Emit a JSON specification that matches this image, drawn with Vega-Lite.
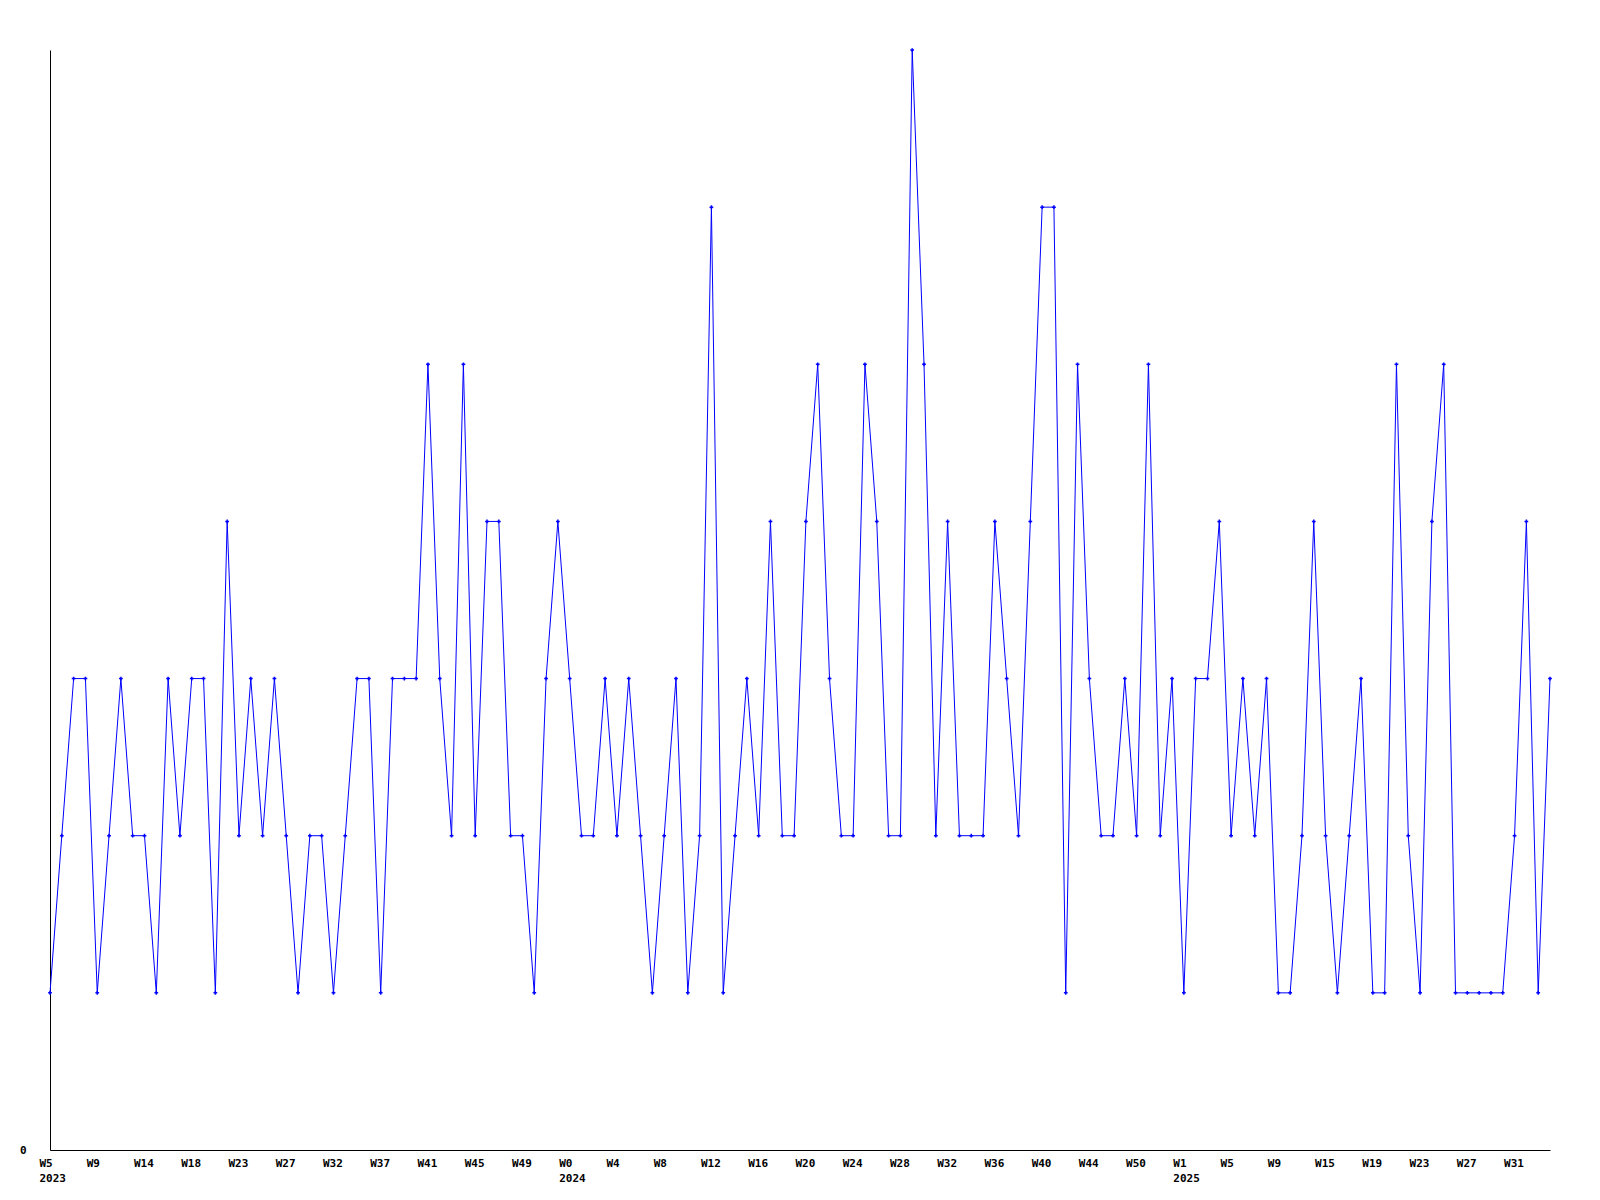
{
  "$schema": "https://vega.github.io/schema/vega-lite/v6.json",
  "width": 1500,
  "height": 1100,
  "autosize": {"type": "none"},
  "padding": {"left": 50, "top": 50, "right": 50, "bottom": 50},
  "background": "white",
  "config": {"view": {"stroke": null}},
  "data": {"values": [
    {"week":"2023-W05","count":1},{"week":"2023-W06","count":2},{"week":"2023-W07","count":3},{"week":"2023-W08","count":3},
    {"week":"2023-W09","count":1},{"week":"2023-W10","count":2},{"week":"2023-W11","count":3},{"week":"2023-W12","count":2},
    {"week":"2023-W14","count":2},{"week":"2023-W15","count":1},{"week":"2023-W16","count":3},{"week":"2023-W17","count":2},
    {"week":"2023-W18","count":3},{"week":"2023-W20","count":3},{"week":"2023-W21","count":1},{"week":"2023-W22","count":4},
    {"week":"2023-W23","count":2},{"week":"2023-W24","count":3},{"week":"2023-W25","count":2},{"week":"2023-W26","count":3},
    {"week":"2023-W27","count":2},{"week":"2023-W28","count":1},{"week":"2023-W29","count":2},{"week":"2023-W31","count":2},
    {"week":"2023-W32","count":1},{"week":"2023-W33","count":2},{"week":"2023-W34","count":3},{"week":"2023-W36","count":3},
    {"week":"2023-W37","count":1},{"week":"2023-W38","count":3},{"week":"2023-W39","count":3},{"week":"2023-W40","count":3},
    {"week":"2023-W41","count":5},{"week":"2023-W42","count":3},{"week":"2023-W43","count":2},{"week":"2023-W44","count":5},
    {"week":"2023-W45","count":2},{"week":"2023-W46","count":4},{"week":"2023-W47","count":4},{"week":"2023-W48","count":2},
    {"week":"2023-W49","count":2},{"week":"2023-W50","count":1},{"week":"2023-W51","count":3},{"week":"2023-W52","count":4},
    {"week":"2024-W00","count":3},{"week":"2024-W01","count":2},{"week":"2024-W02","count":2},{"week":"2024-W03","count":3},
    {"week":"2024-W04","count":2},{"week":"2024-W05","count":3},{"week":"2024-W06","count":2},{"week":"2024-W07","count":1},
    {"week":"2024-W08","count":2},{"week":"2024-W09","count":3},{"week":"2024-W10","count":1},{"week":"2024-W11","count":2},
    {"week":"2024-W12","count":6},{"week":"2024-W13","count":1},{"week":"2024-W14","count":2},{"week":"2024-W15","count":3},
    {"week":"2024-W16","count":2},{"week":"2024-W17","count":4},{"week":"2024-W18","count":2},{"week":"2024-W19","count":2},
    {"week":"2024-W20","count":4},{"week":"2024-W21","count":5},{"week":"2024-W22","count":3},{"week":"2024-W23","count":2},
    {"week":"2024-W24","count":2},{"week":"2024-W25","count":5},{"week":"2024-W26","count":4},{"week":"2024-W27","count":2},
    {"week":"2024-W28","count":2},{"week":"2024-W29","count":7},{"week":"2024-W30","count":5},{"week":"2024-W31","count":2},
    {"week":"2024-W32","count":4},{"week":"2024-W33","count":2},{"week":"2024-W34","count":2},{"week":"2024-W35","count":2},
    {"week":"2024-W36","count":4},{"week":"2024-W37","count":3},{"week":"2024-W38","count":2},{"week":"2024-W39","count":4},
    {"week":"2024-W40","count":6},{"week":"2024-W41","count":6},{"week":"2024-W42","count":1},{"week":"2024-W43","count":5},
    {"week":"2024-W44","count":3},{"week":"2024-W46","count":2},{"week":"2024-W47","count":2},{"week":"2024-W48","count":3},
    {"week":"2024-W50","count":2},{"week":"2024-W51","count":5},{"week":"2024-W52","count":2},{"week":"2025-W00","count":3},
    {"week":"2025-W01","count":1},{"week":"2025-W02","count":3},{"week":"2025-W03","count":3},{"week":"2025-W04","count":4},
    {"week":"2025-W05","count":2},{"week":"2025-W06","count":3},{"week":"2025-W07","count":2},{"week":"2025-W08","count":3},
    {"week":"2025-W09","count":1},{"week":"2025-W11","count":1},{"week":"2025-W12","count":2},{"week":"2025-W13","count":4},
    {"week":"2025-W15","count":2},{"week":"2025-W16","count":1},{"week":"2025-W17","count":2},{"week":"2025-W18","count":3},
    {"week":"2025-W19","count":1},{"week":"2025-W20","count":1},{"week":"2025-W21","count":5},{"week":"2025-W22","count":2},
    {"week":"2025-W23","count":1},{"week":"2025-W24","count":4},{"week":"2025-W25","count":5},{"week":"2025-W26","count":1},
    {"week":"2025-W27","count":1},{"week":"2025-W28","count":1},{"week":"2025-W29","count":1},{"week":"2025-W30","count":1},
    {"week":"2025-W31","count":2},{"week":"2025-W32","count":4},{"week":"2025-W33","count":1},{"week":"2025-W34","count":3}
  ]},
  "encoding": {
    "x": {
      "field": "week", "type": "ordinal", "sort": null,
      "scale": {"type": "point", "padding": 0},
      "axis": {
        "title": null,
        "values": ["2023-W05","2023-W09","2023-W14","2023-W18","2023-W23","2023-W27","2023-W32","2023-W37","2023-W41","2023-W45","2023-W49","2024-W00","2024-W04","2024-W08","2024-W12","2024-W16","2024-W20","2024-W24","2024-W28","2024-W32","2024-W36","2024-W40","2024-W44","2024-W50","2025-W01","2025-W05","2025-W09","2025-W15","2025-W19","2025-W23","2025-W27","2025-W31"],
        "labelExpr": "(datum.value == '2023-W05' || datum.value == '2024-W00' || datum.value == '2025-W01') ? ['W' + toNumber(substring(datum.value, 6)), substring(datum.value, 0, 4)] : 'W' + toNumber(substring(datum.value, 6))",
        "labelAngle": 0,
        "labelAlign": "left",
        "labelBaseline": "top",
        "labelOffset": -11,
        "labelPadding": 7,
        "labelLineHeight": 15,
        "labelFont": "DejaVu Sans Mono",
        "labelFontWeight": "bold",
        "labelFontSize": 11,
        "labelColor": "black",
        "labelOverlap": false,
        "ticks": false,
        "grid": false,
        "domainColor": "black",
        "domainWidth": 1
      }
    },
    "y": {
      "field": "count", "type": "quantitative",
      "scale": {"domain": [0, 7], "nice": false, "zero": true},
      "axis": {
        "title": null,
        "values": [0],
        "ticks": false,
        "grid": false,
        "labelPadding": 24,
        "labelFont": "DejaVu Sans Mono",
        "labelFontWeight": "bold",
        "labelFontSize": 11,
        "labelColor": "black",
        "domainColor": "black",
        "domainWidth": 1
      }
    }
  },
  "layer": [
    {"mark": {"type": "line", "color": "#0000ff", "strokeWidth": 1}},
    {"mark": {"type": "point", "shape": "cross", "filled": true, "color": "#0000ff", "size": 14, "opacity": 1}}
  ]
}
